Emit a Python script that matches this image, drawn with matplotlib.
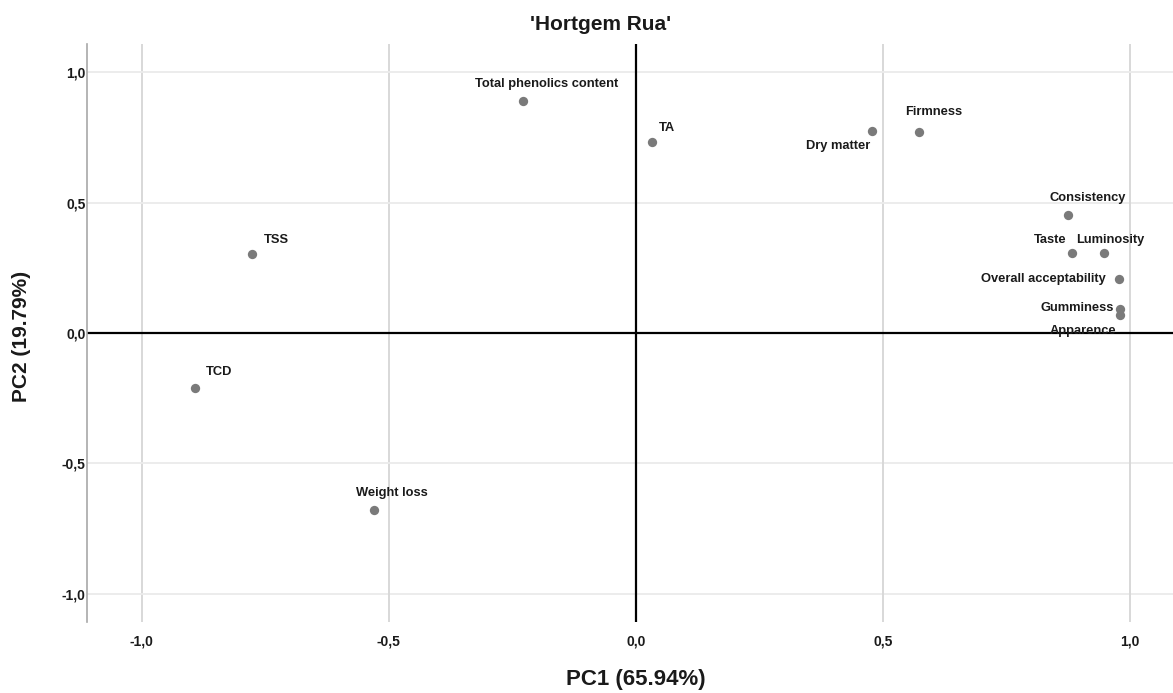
import matplotlib.pyplot as plt
from matplotlib.ticker import FuncFormatter

plt.rcParams['font.family'] = ['Liberation Sans', 'DejaVu Sans']

# loadings
variables = ['Total phenolics content', 'TA', 'Dry matter', 'Firmness', 'Consistency',
             'Taste', 'Luminosity', 'Overall acceptability', 'Gumminess', 'Apparence',
             'TSS', 'TCD', 'Weight loss']
pc1 = [-0.229, 0.032, 0.478, 0.573, 0.874, 0.883, 0.947, 0.978, 0.980, 0.980,
       -0.777, -0.893, -0.530]
pc2 = [0.891, 0.733, 0.775, 0.772, 0.453, 0.307, 0.307, 0.207, 0.092, 0.069,
       0.303, -0.211, -0.679]
ticks = [-1.0, -0.5, 0.0, 0.5, 1.0]

# label placement (pixel offsets from point, alignment)
label_pos = {
    'Total phenolics content': (24, 17, 'center'),
    'TA': (7, 14, 'left'),
    'Dry matter': (-2, -15, 'right'),
    'Firmness': (15, 20, 'center'),
    'Consistency': (20, 17, 'center'),
    'Taste': (-6, 13, 'right'),
    'Luminosity': (6, 13, 'center'),
    'Overall acceptability': (-13, 0, 'right'),
    'Gumminess': (-6, 1, 'right'),
    'Apparence': (-4, -16, 'right'),
    'TSS': (12, 14, 'left'),
    'TCD': (11, 16, 'left'),
    'Weight loss': (18, 17, 'center'),
}

fig = plt.figure(figsize=(11.73, 6.93), dpi=100)
ax = fig.add_axes([87 / 1173, 71 / 693, 1086 / 1173, 578 / 693])
ax.set_xlim(-1.111, 1.087)
ax.set_ylim(-1.109, 1.109)

for t in ticks:
    ax.axvline(t, color='#d6d6d6', lw=1.3, zorder=0)
    ax.axhline(t, color='#ebebeb', lw=1.3, zorder=0)
ax.axhline(0, color='black', lw=1.6, zorder=1)
ax.axvline(0, color='black', lw=1.6, zorder=1)

ax.scatter(pc1, pc2, s=45, color='#7a7a7a', zorder=3, linewidths=0)

for name, x, y in zip(variables, pc1, pc2):
    dx, dy, ha = label_pos[name]
    ax.annotate(name, (x, y), xytext=(dx * 0.72, dy * 0.72), textcoords='offset points',
                ha=ha, va='center', fontsize=9.3, fontweight='bold', color='#1a1a1a',
                zorder=4)

for s in ['top', 'right', 'bottom']:
    ax.spines[s].set_visible(False)
ax.spines['left'].set_color('#a8a8a8')
ax.spines['left'].set_linewidth(1.2)

ax.set_xticks(ticks)
ax.set_yticks(ticks)
fmt = FuncFormatter(lambda v, p: f'{v:.1f}'.replace('.', ','))
ax.xaxis.set_major_formatter(fmt)
ax.yaxis.set_major_formatter(fmt)
ax.tick_params(axis='both', length=0, labelsize=10, colors='#1a1a1a')
ax.tick_params(axis='x', pad=9)
ax.tick_params(axis='y', pad=1)
for lab in ax.get_xticklabels() + ax.get_yticklabels():
    lab.set_fontweight('bold')

fig.text(636 / 1173, 1 - 680 / 693, 'PC1 (65.94%)', ha='center', va='center',
         fontsize=16, fontweight='bold', color='#1a1a1a')
fig.text(22 / 1173, 1 - 336 / 693, 'PC2 (19.79%)', ha='center', va='center',
         rotation=90, fontsize=15, fontweight='bold', color='#1a1a1a')
fig.text(601 / 1173, 1 - 24 / 693, "'Hortgem Rua'", ha='center', va='center',
         fontsize=15, fontweight='bold', color='#1a1a1a')

fig.savefig('out.png', dpi=100)
